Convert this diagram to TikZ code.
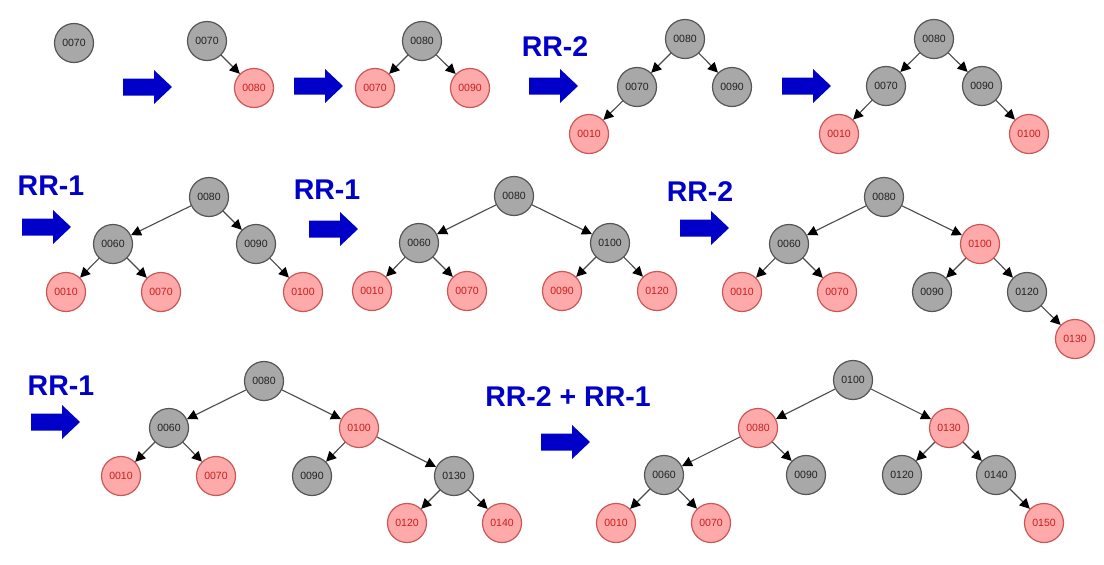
\documentclass[tikz,border=0pt]{standalone}
\usepackage{fontspec}
\setmainfont{Liberation Sans}
\usetikzlibrary{arrows.meta}
\definecolor{gfill}{HTML}{A8A8A8}
\definecolor{gdraw}{HTML}{555555}
\definecolor{gtext}{HTML}{222222}
\definecolor{rfill}{HTML}{FFAAAA}
\definecolor{rdraw}{HTML}{CC5555}
\definecolor{rtext}{HTML}{C81E1E}
\definecolor{ablue}{HTML}{0000C8}
\definecolor{edgec}{HTML}{4A4A4A}
\tikzset{
 bnode/.style={circle,minimum size=39pt,inner sep=0pt,line width=1.2pt,font=\fontsize{10.5}{12}\selectfont},
 gnode/.style={bnode,fill=gfill,draw=gdraw,text=gtext},
 rnode/.style={bnode,fill=rfill,draw=rdraw,text=rtext},
 edge/.style={draw=edgec,line width=1.1pt,-{Triangle[length=10pt,width=10pt,color=black]}},
 rrlabel/.style={text=ablue,font=\fontsize{28.5}{30}\selectfont\bfseries,inner sep=0pt},
 bigarrow/.pic={\fill[ablue] (0,-8.5) -- (31,-8.5) -- (31,-17) -- (49,0) -- (31,17) -- (31,8.5) -- (0,8.5) -- cycle;}
}
\begin{document}
\begin{tikzpicture}[x=1pt,y=-1pt]
\fill[white] (0,0) rectangle (1104,565);
\useasboundingbox (0,0) rectangle (1104,565);

% ---------- Row 1 ----------
\node[gnode] (t1a) at (74,43) {0070};

\pic at (123,87) {bigarrow};
\node[gnode] (t2a) at (207,41) {0070};
\node[rnode] (t2b) at (254,88) {0080};
\draw[edge] (t2a) -- (t2b);

\pic at (294,86) {bigarrow};
\node[gnode] (t3a) at (422,41) {0080};
\node[rnode] (t3b) at (375,88) {0070};
\node[rnode] (t3c) at (470,88) {0090};
\draw[edge] (t3a) -- (t3b);
\draw[edge] (t3a) -- (t3c);

\node[rrlabel] (l1) at (555,47) {RR-2};
\pic at (529,86) {bigarrow};
\node[gnode] (t4a) at (685,39) {0080};
\node[gnode] (t4b) at (637,87) {0070};
\node[gnode] (t4c) at (732,87) {0090};
\node[rnode] (t4d) at (589,134) {0010};
\draw[edge] (t4a) -- (t4b);
\draw[edge] (t4a) -- (t4c);
\draw[edge] (t4b) -- (t4d);

\pic at (782,86) {bigarrow};
\node[gnode] (t5a) at (934,39) {0080};
\node[gnode] (t5b) at (886,86) {0070};
\node[gnode] (t5c) at (982,86) {0090};
\node[rnode] (t5d) at (839,134) {0010};
\node[rnode] (t5e) at (1029,134) {0100};
\draw[edge] (t5a) -- (t5b);
\draw[edge] (t5a) -- (t5c);
\draw[edge] (t5b) -- (t5d);
\draw[edge] (t5c) -- (t5e);

% ---------- Row 2 ----------
\node[rrlabel] (l2) at (51,186) {RR-1};
\pic at (22,227) {bigarrow};
\node[gnode] (t6a) at (209,197) {0080};
\node[gnode] (t6b) at (113,244) {0060};
\node[gnode] (t6c) at (256,244) {0090};
\node[rnode] (t6d) at (66,292) {0010};
\node[rnode] (t6e) at (161,292) {0070};
\node[rnode] (t6f) at (303,292) {0100};
\draw[edge] (t6a) -- (t6b);
\draw[edge] (t6a) -- (t6c);
\draw[edge] (t6b) -- (t6d);
\draw[edge] (t6b) -- (t6e);
\draw[edge] (t6c) -- (t6f);

\node[rrlabel] (l3) at (327,190) {RR-1};
\pic at (309,229) {bigarrow};
\node[gnode] (t7a) at (514,196) {0080};
\node[gnode] (t7b) at (419,243) {0060};
\node[gnode] (t7c) at (610,243) {0100};
\node[rnode] (t7d) at (372,291) {0010};
\node[rnode] (t7e) at (467,291) {0070};
\node[rnode] (t7f) at (562,291) {0090};
\node[rnode] (t7g) at (657,291) {0120};
\draw[edge] (t7a) -- (t7b);
\draw[edge] (t7a) -- (t7c);
\draw[edge] (t7b) -- (t7d);
\draw[edge] (t7b) -- (t7e);
\draw[edge] (t7c) -- (t7f);
\draw[edge] (t7c) -- (t7g);

\node[rrlabel] (l4) at (700,192) {RR-2};
\pic at (680,228) {bigarrow};
\node[gnode] (t8a) at (884,197) {0080};
\node[gnode] (t8b) at (789,244) {0060};
\node[rnode] (t8c) at (980,244) {0100};
\node[rnode] (t8d) at (742,292) {0010};
\node[rnode] (t8e) at (837,292) {0070};
\node[gnode] (t8f) at (932,292) {0090};
\node[gnode] (t8g) at (1027,292) {0120};
\node[rnode] (t8h) at (1075,339) {0130};
\draw[edge] (t8a) -- (t8b);
\draw[edge] (t8a) -- (t8c);
\draw[edge] (t8b) -- (t8d);
\draw[edge] (t8b) -- (t8e);
\draw[edge] (t8c) -- (t8f);
\draw[edge] (t8c) -- (t8g);
\draw[edge] (t8g) -- (t8h);

% ---------- Row 3 ----------
\node[rrlabel] (l5) at (61,386) {RR-1};
\pic at (31,422) {bigarrow};
\node[gnode] (t9a) at (264,381) {0080};
\node[gnode] (t9b) at (169,428) {0060};
\node[rnode] (t9c) at (359,428) {0100};
\node[rnode] (t9d) at (121,476) {0010};
\node[rnode] (t9e) at (216,476) {0070};
\node[gnode] (t9f) at (312,476) {0090};
\node[gnode] (t9g) at (454,476) {0130};
\node[rnode] (t9h) at (407,523) {0120};
\node[rnode] (t9i) at (502,523) {0140};
\draw[edge] (t9a) -- (t9b);
\draw[edge] (t9a) -- (t9c);
\draw[edge] (t9b) -- (t9d);
\draw[edge] (t9b) -- (t9e);
\draw[edge] (t9c) -- (t9f);
\draw[edge] (t9c) -- (t9g);
\draw[edge] (t9g) -- (t9h);
\draw[edge] (t9g) -- (t9i);

\node[rrlabel] (l6) at (568,397) {RR-2 + RR-1};
\pic at (541,442) {bigarrow};
\node[gnode] (u1) at (853,380) {0100};
\node[rnode] (u2) at (758,428) {0080};
\node[rnode] (u3) at (949,428) {0130};
\node[gnode] (u4) at (664,475) {0060};
\node[gnode] (u5) at (806,475) {0090};
\node[gnode] (u6) at (902,475) {0120};
\node[gnode] (u7) at (996,475) {0140};
\node[rnode] (u8) at (616,523) {0010};
\node[rnode] (u9) at (711,523) {0070};
\node[rnode] (u10) at (1044,523) {0150};
\draw[edge] (u1) -- (u2);
\draw[edge] (u1) -- (u3);
\draw[edge] (u2) -- (u4);
\draw[edge] (u2) -- (u5);
\draw[edge] (u3) -- (u6);
\draw[edge] (u3) -- (u7);
\draw[edge] (u4) -- (u8);
\draw[edge] (u4) -- (u9);
\draw[edge] (u7) -- (u10);
\end{tikzpicture}
\end{document}
